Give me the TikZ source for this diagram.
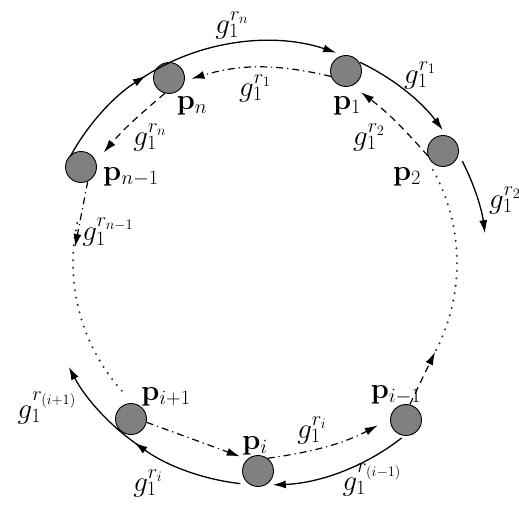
\RequirePackage{fix-cm}
\documentclass[tikz,border=0pt]{standalone}
\usetikzlibrary{arrows.meta}
\tikzset{
  pnode/.style={circle, draw=black, line width=0.9pt, fill=black!50, minimum size=31pt, inner sep=0pt},
  lab/.style={font=\fontsize{29}{34}\selectfont, inner sep=0pt},
  tip/.style={-{Latex[length=13pt,width=8pt]}},
  outerarc/.style={line width=1.3pt},
  dashline/.style={line width=1.2pt, dash pattern=on 7pt off 5pt},
  dashdotline/.style={line width=1.2pt, dash pattern=on 7pt off 4pt on 1.2pt off 4pt},
  dotline/.style={line width=2.3pt, black!80, line cap=round, dash pattern=on 0pt off 7.5pt}
}
\begin{document}
\begin{tikzpicture}[x=1pt,y=1pt]
\useasboundingbox (0,0) rectangle (519,504);
\coordinate (C) at (265,241);
% nodes
\node[pnode] (pn)  at (169,426) {};
\node[pnode] (p1)  at (346,433) {};
\node[pnode] (p2)  at (443,353) {};
\node[pnode] (pn1) at (81,337) {};
\node[pnode] (pi1) at (131,85) {};
\node[pnode] (pi)  at (258,33) {};
\node[pnode] (pim1) at (406,84) {};
% node labels
\node[lab] (lpn)  at (192,398) {$\mathbf{p}_n$};
\node[lab] (lp1)  at (347,398) {$\mathbf{p}_1$};
\node[lab] (lp2)  at (407,327) {$\mathbf{p}_2$};
\node[lab] (lpn1) at (131,327) {$\mathbf{p}_{n-1}$};
\node[lab] (lpi1) at (166,107) {$\mathbf{p}_{i+1}$};
\node[lab] (lpi)  at (255,58) {$\mathbf{p}_i$};
\node[lab] (lpim1) at (396,109) {$\mathbf{p}_{i-1}$};
% dotted circle parts
\draw[dotline] ([shift={(168:192)}]C) arc[start angle=168, end angle=223, radius=192];
\draw[dotline] ([shift={(29:192)}]C) arc[start angle=29, end angle=-27, radius=192];
% outer solid arcs
\coordinate (o1) at ([shift={(151.3:222)}]C);
\coordinate (o1m) at ([shift={(123.5:222)}]C);
\draw[outerarc,tip] (o1) arc[start angle=151.3, end angle=122.5, radius=222];
\draw[outerarc] (o1m) arc[start angle=123.5, end angle=115.5, radius=222];
\coordinate (o2) at ([shift={(115.3:222)}]C);
\draw[outerarc,tip] (o2) arc[start angle=115.3, end angle=71.3, radius=222];
\coordinate (o3) at ([shift={(64.7:222)}]C);
\draw[outerarc,tip] (o3) arc[start angle=64.7, end angle=36.8, radius=222];
\coordinate (o4) at ([shift={(27.3:222)}]C);
\draw[outerarc,tip] (o4) arc[start angle=27.3, end angle=7.7, radius=222];
\coordinate (o5) at ([shift={(308:222)}]C);
\draw[outerarc,tip] (o5) arc[start angle=308, end angle=272, radius=222];
\coordinate (o6) at ([shift={(263.6:222)}]C);
\draw[outerarc,tip] (o6) arc[start angle=263.6, end angle=234, radius=222];
\coordinate (o7) at ([shift={(236:222)}]C);
\draw[outerarc,tip] (o7) arc[start angle=236, end angle=207.9, radius=222];
% inner dashed connectors
\coordinate (pn1end) at (75,257);
\coordinate (pim1end) at (435,152);
\draw[dashdotline,tip,shorten >=7pt] (p1.200) to[bend right=15] (pn.-10);
\draw[dashline,tip,shorten >=11pt] (p2.198) to[bend right=6] (p1.-67);
\draw[dashline,tip,shorten >=12pt] (pn.255) to[bend right=5] (pn1.20);
\draw[dashdotline,tip] (pn1.-65) -- (pn1end);
\draw[dashdotline,tip,shorten >=8pt] (pi1.-12) -- (pi.132);
\draw[dashdotline,tip,shorten >=14pt] (pi.53) to[bend right=10] (pim1.176);
\draw[dashline,tip] (pim1.76) -- (pim1end);
% connector labels
\node[lab] (g1) at (232,479) {$g_1^{r_n}$};
\node[lab] (g2) at (420,429) {$g_1^{r_1}$};
\node[lab] (g3) at (255,416) {$g_1^{r_1}$};
\node[lab] (g4) at (369,367) {$g_1^{r_2}$};
\node[lab] (g5) at (505,304) {$g_1^{r_2}$};
\node[lab] (g6) at (150,367) {$g_1^{r_n}$};
\node[lab] (g7) at (108,272) {$g_1^{r_{n-1}}$};
\node[lab] (g8) at (312,74) {$g_1^{r_i}$};
\node[lab] (g9) at (372,24) {$g_1^{r_{(i-1)}}$};
\node[lab] (g10) at (148,21) {$g_1^{r_i}$};
\node[lab] (g11) at (47,96) {$g_1^{r_{(i+1)}}$};
\end{tikzpicture}
\end{document}
